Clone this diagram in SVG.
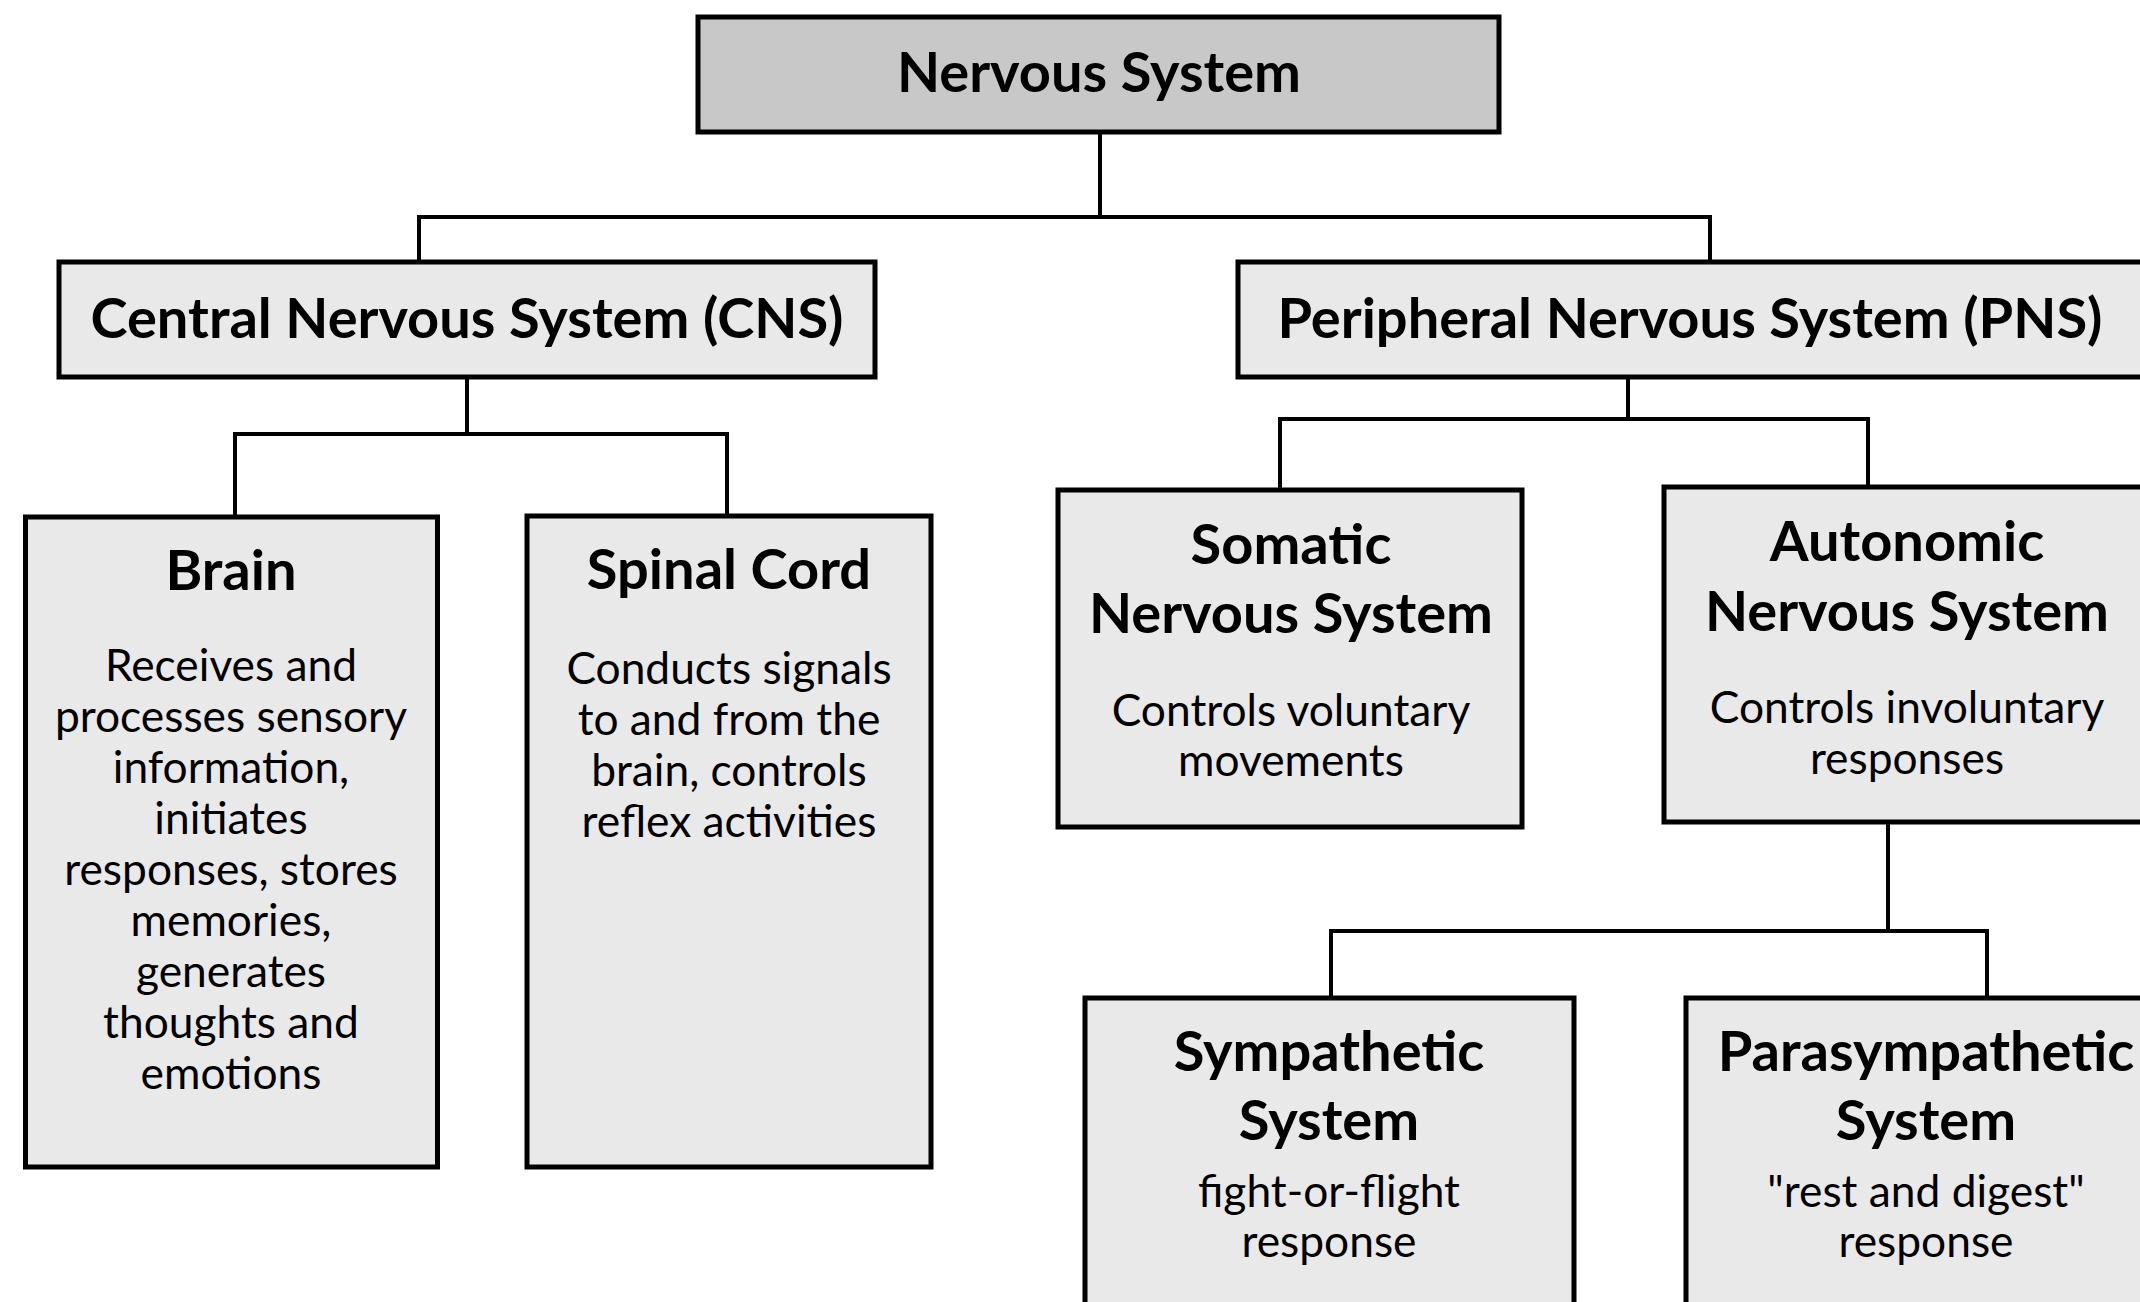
<svg xmlns="http://www.w3.org/2000/svg" width="2140" height="1302" viewBox="0 0 2140 1302">
<style>
.box{fill:#e9e9e9;stroke:#000;stroke-width:5}
.top{fill:#c8c8c8;stroke:#000;stroke-width:5}
.conn{fill:none;stroke:#000;stroke-width:4}
text{font-family:Lato,"Open Sans","Liberation Sans",sans-serif;text-anchor:middle;fill:#000}
.t{font-weight:bold;font-size:56px}
.b{font-size:44.3px}
</style>
<rect width="2140" height="1302" fill="#fff"/>
<g id="connectors">
<path class="conn" d="M1100 132V217M419 261V217H1710V261"/>
<path class="conn" d="M467 378V434M235 517V434H727V516"/>
<path class="conn" d="M1628 377V419M1280 490V419H1868V487"/>
<path class="conn" d="M1888 822V931M1331 998V931H1987V998"/>
</g>
<g id="nervous-system">
<rect class="top" x="698" y="17" width="801" height="115"/>
<text class="t" x="1099" y="92">Nervous System</text>
</g>
<g id="cns">
<rect class="box" x="59" y="262" width="816" height="115"/>
<text class="t" x="467" y="338">Central Nervous System (CNS)</text>
</g>
<g id="pns">
<rect class="box" x="1238" y="262" width="920" height="115"/>
<text class="t" x="1690" y="338">Peripheral Nervous System (PNS)</text>
</g>
<g id="brain">
<rect class="box" x="25.5" y="517" width="412" height="650"/>
<text class="t" x="231" y="590">Brain</text>
<text class="b" x="231" y="681">Receives and</text>
<text class="b" x="231" y="732">processes sensory</text>
<text class="b" x="231" y="783">information,</text>
<text class="b" x="231" y="834">initiates</text>
<text class="b" x="231" y="885">responses, stores</text>
<text class="b" x="231" y="936">memories,</text>
<text class="b" x="231" y="987">generates</text>
<text class="b" x="231" y="1038">thoughts and</text>
<text class="b" x="231" y="1089">emotions</text>
</g>
<g id="spinal-cord">
<rect class="box" x="527" y="516" width="404" height="651"/>
<text class="t" x="729" y="589">Spinal Cord</text>
<text class="b" x="729" y="684">Conducts signals</text>
<text class="b" x="729" y="735">to and from the</text>
<text class="b" x="729" y="786">brain, controls</text>
<text class="b" x="729" y="837">reflex activities</text>
</g>
<g id="somatic">
<rect class="box" x="1058" y="490" width="464" height="337"/>
<text class="t" x="1291" y="564">Somatic</text>
<text class="t" x="1291" y="633">Nervous System</text>
<text class="b" x="1291" y="726">Controls voluntary</text>
<text class="b" x="1291" y="776">movements</text>
</g>
<g id="autonomic">
<rect class="box" x="1664" y="487" width="500" height="335"/>
<text class="t" x="1907" y="561">Autonomic</text>
<text class="t" x="1907" y="631">Nervous System</text>
<text class="b" x="1907" y="723">Controls involuntary</text>
<text class="b" x="1907" y="774">responses</text>
</g>
<g id="sympathetic">
<rect class="box" x="1085" y="998" width="489" height="330"/>
<text class="t" x="1329" y="1071">Sympathetic</text>
<text class="t" x="1329" y="1140">System</text>
<text class="b" x="1329" y="1207">fight-or-flight</text>
<text class="b" x="1329" y="1257">response</text>
</g>
<g id="parasympathetic">
<rect class="box" x="1686" y="998" width="480" height="330"/>
<text class="t" x="1926" y="1071">Parasympathetic</text>
<text class="t" x="1926" y="1140">System</text>
<text class="b" x="1926" y="1207">"rest and digest"</text>
<text class="b" x="1926" y="1257">response</text>
</g>
</svg>
